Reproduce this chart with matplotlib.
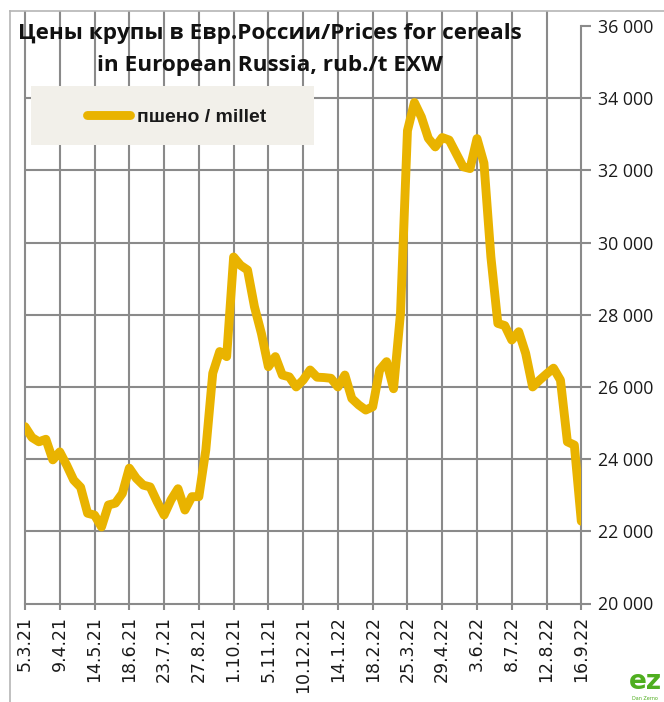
import matplotlib
matplotlib.use("Agg")
import matplotlib.pyplot as plt
from matplotlib.patches import Rectangle
from matplotlib.lines import Line2D
import numpy as np

# ---- data ----
tick_labels = ["5.3.21", "9.4.21", "14.5.21", "18.6.21", "23.7.21", "27.8.21",
               "1.10.21", "5.11.21", "10.12.21", "14.1.22", "18.2.22", "25.3.22",
               "29.4.22", "3.6.22", "8.7.22", "12.8.22", "16.9.22"]
weeks_per_tick = 5
series_name = "пшено / millet"
millet = [24900, 24600, 24480, 24550, 23980, 24200, 23830, 23420, 23220, 22500,
          22450, 22120, 22730, 22780, 23050, 23750, 23470, 23280, 23230, 22820,
          22450, 22870, 23180, 22590, 22960, 22960, 24250, 26380, 26980, 26840,
          29600, 29370, 29240, 28220, 27480, 26560, 26840, 26330, 26280, 26000,
          26190, 26470, 26270, 26260, 26240, 26000, 26330, 25680, 25500, 25360,
          25450, 26470, 26700, 25950, 28040, 33100, 33880, 33480, 32890, 32650,
          32910, 32840, 32470, 32100, 32050, 32880, 32200, 29600, 27760, 27700,
          27300, 27530, 26930, 26000, 26190, 26360, 26520, 26190, 24480, 24390,
          22280]
y_ticks = [20000, 22000, 24000, 26000, 28000, 30000, 32000, 34000, 36000]
title1 = "Цены крупы в Евр.России/Prices for cereals"
title2 = "in European Russia, rub./t EXW"

W, H = 664, 702
fig = plt.figure(figsize=(W / 100, H / 100), dpi=100)
fig.patch.set_facecolor("white")

x0, x1, ytop, ybot = 25, 581.3, 26, 603.5
ax = fig.add_axes([x0 / W, 1 - ybot / H, (x1 - x0) / W, (ybot - ytop) / H])
ax.set_facecolor("none")

grid_c = "#8a8a8a"
line_c = "#e9b300"

x = np.arange(len(millet))
xt = np.arange(0, len(millet), weeks_per_tick)

ax.set_xlim(0, len(millet) - 1)
ax.set_ylim(y_ticks[0], y_ticks[-1])

# grid
for yv in y_ticks[1:-1]:
    ax.axhline(yv, color=grid_c, lw=1.5, zorder=1)
ax.vlines(xt[:-1], 0, 1 + 15 / (ybot - ytop), transform=ax.get_xaxis_transform(),
          color=grid_c, lw=1.5, zorder=1, clip_on=False)

# series
ax.plot(x, millet, color=line_c, lw=6.4, solid_joinstyle="round",
        solid_capstyle="round", zorder=3, label=series_name)

# spines & ticks
for s in ["top", "left"]:
    ax.spines[s].set_visible(False)
for s in ["bottom", "right"]:
    ax.spines[s].set_color(grid_c)
    ax.spines[s].set_linewidth(1.5)

ax.yaxis.tick_right()
ax.set_yticks(y_ticks)
ax.set_yticklabels([f"{v:,}".replace(",", " ") for v in y_ticks],
                   fontfamily="Open Sans", fontsize=12.8, color="#1a1a1a")
ax.tick_params(axis="y", direction="out", length=7.2, width=1.5, color=grid_c, pad=4.5)

ax.set_xticks(xt)
ax.set_xticklabels(tick_labels, rotation=90, fontfamily="DejaVu Sans",
                   fontsize=12.5, color="#1a1a1a")
ax.tick_params(axis="x", direction="out", length=4.3, width=1.5, color=grid_c, pad=4.5)

# legend with background box
bg = Rectangle((31 / W, 1 - 145 / H), (314 - 31) / W, (145 - 86) / H,
               transform=fig.transFigure, facecolor="#f2f0ea",
               edgecolor="none", zorder=4, clip_on=False)
ax.add_patch(bg)
leg = ax.legend(loc="center", bbox_to_anchor=(176.5 / W, 1 - 117 / H),
                bbox_transform=fig.transFigure, frameon=False,
                handlelength=2.2, handletextpad=0.35,
                prop={"family": "Liberation Sans", "weight": "bold", "size": 14})
leg.set_zorder(5)
for t in leg.get_texts():
    t.set_color("#1a1a1a")

# title
fig.text(270 / W, 1 - 33 / H, title1, ha="center", va="center",
         fontfamily="Open Sans", fontweight="bold", fontsize=16.2, color="#111111")
fig.text(270 / W, 1 - 66 / H, title2, ha="center", va="center",
         fontfamily="Open Sans", fontweight="bold", fontsize=16.2, color="#111111")

# chart border
fig.add_artist(Line2D([10 / W, 10 / W], [0, 1 - 11 / H], transform=fig.transFigure,
                      color="#b5b5b5", lw=1.2))
fig.add_artist(Line2D([10 / W, 1], [1 - 11 / H, 1 - 11 / H], transform=fig.transFigure,
                      color="#b5b5b5", lw=1.2))

# logo
fig.text(645 / W, 1 - 689 / H, "ez", ha="center", va="baseline", fontfamily="DejaVu Sans",
         fontweight="bold", fontsize=19, color="#4fae1f")
fig.text(645 / W, 1 - 696 / H, "Dan Zerno", ha="center", va="top",
         fontfamily="DejaVu Sans", fontsize=3.5, color="#4fae1f")

fig.savefig("out.png", dpi=100, facecolor="white")
